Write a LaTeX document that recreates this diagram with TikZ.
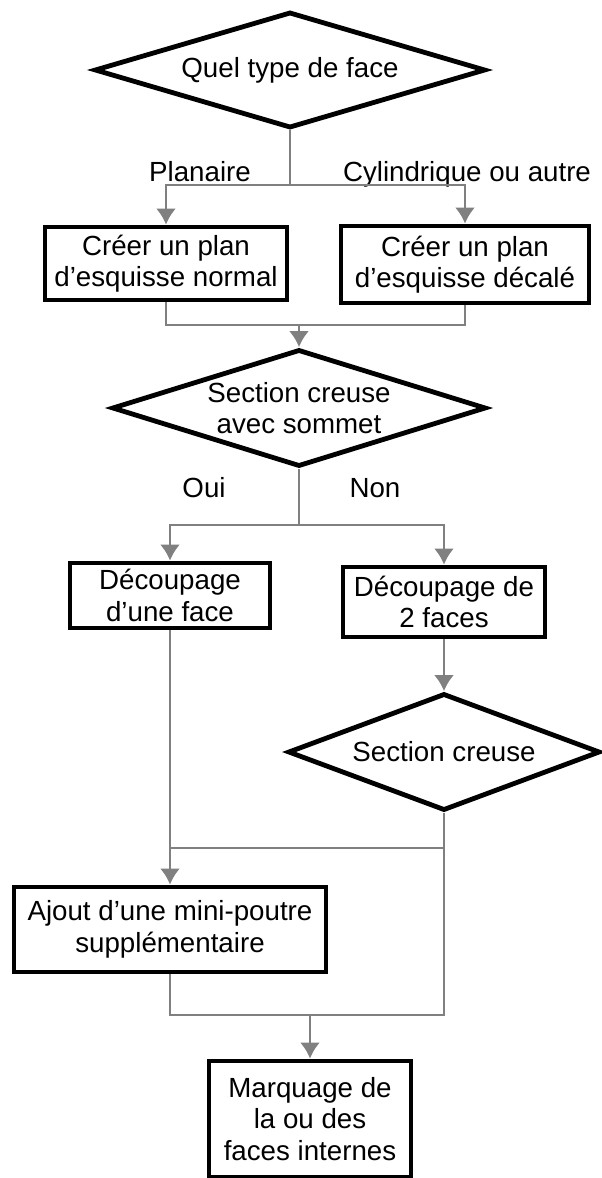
\documentclass[tikz,border=0pt]{standalone}
\usepackage{fontspec}
\setmainfont{Liberation Sans}
\usetikzlibrary{shapes.geometric,arrows.meta}
\tikzset{% change default arrow tips
    >={Latex[length=0.4cm,width=0.5cm]}
}
\tikzset{
    decision/.style={diamond, draw=black, line width=0.12cm, inner sep=0pt, align=center},
    etape/.style={rectangle, draw=black, line width=0.12cm, inner sep=0pt, align=center},
    lien/.style={draw=black!50, line width=0.065cm}
}

\begin{document}
\begin{tikzpicture}[x=0.025cm,y=-0.025cm,font=\fontsize{19.7pt}{22.4pt}\selectfont]
		\newcommand{\colG}{170}
		\newcommand{\colM}{299}
		\newcommand{\colD}{444}

		\useasboundingbox (0,0) rectangle (602,1178);

		% decisions
		\node[decision, shape aspect=3.4, minimum width=9.775cm, minimum height=2.9cm] (typeface) at (290,70) {Quel type de face};
		\node[decision, shape aspect=3.2, minimum width=9.35cm, minimum height=2.925cm] (sommet) at (\colM,408) {Section creuse\\avec sommet};
		\node[decision, shape aspect=2.7, minimum width=7.8cm, minimum height=2.925cm] (creuse) at (\colD,752) {Section creuse};

		% steps
		\node[etape, minimum width=6.05cm, minimum height=1.825cm] (planN) at (166,263.5) {Créer un plan\\d'esquisse normal};
		\node[etape, minimum width=6.2cm, minimum height=1.925cm] (planD) at (465,264.5) {Créer un plan\\d'esquisse décalé};
		\node[etape, minimum width=5cm, minimum height=1.625cm] (uneface) at (\colG,595.5) {Découpage\\d'une face};
		\node[etape, minimum width=5.05cm, minimum height=1.75cm] (deuxfaces) at (\colD,602) {Découpage de\\2 faces};
		\node[etape, minimum width=7.8cm, minimum height=2.125cm] (minipoutre) at (\colG,929.5) {Ajout d'une mini-poutre\\supplémentaire};
		\node[etape, minimum width=5.05cm, minimum height=2.9cm] (marquage) at (310,1119) {Marquage de\\la ou des\\faces internes};

		% branch labels (on their baseline)
		\node[anchor=base] (lblPlan) at (200,181) {Planaire};
		\node[anchor=base] (lblCyl) at (467,181) {Cylindrique ou autre};
		\node[anchor=base] (lblOui) at (204,497) {Oui};
		\node[anchor=base] (lblNon) at (375,497) {Non};

		% forks and joins
		\coordinate (fourche1) at (290,185);
		\coordinate (jonction1) at (\colM,325);
		\coordinate (fourche2) at (\colM,525);
		\coordinate (fusion) at (\colD,848);
		\coordinate (jonction2) at (310,1015);

		% links
		\draw[lien] (typeface.south) -- (fourche1);
		\draw[lien,->] (fourche1) -| (planN.north);
		\draw[lien,->] (fourche1) -| (planD.north);
		\draw[lien] (planN.south) |- (jonction1) -| (planD.south);
		\draw[lien,->] (jonction1) -- (sommet.north);
		\draw[lien] (sommet.south) -- (fourche2);
		\draw[lien,->] (fourche2) -| (uneface.north);
		\draw[lien,->] (fourche2) -| (deuxfaces.north);
		\draw[lien,->] (deuxfaces.south) -- (creuse.north);
		\draw[lien,->] (uneface.south) -- (minipoutre.north);
		\draw[lien] (creuse.south) -- (fusion) -- (fusion -| uneface.south);
		\draw[lien] (minipoutre.south) |- (jonction2) -| (fusion);
		\draw[lien,->] (jonction2) -- (marquage.north);

\end{tikzpicture}
\end{document}
